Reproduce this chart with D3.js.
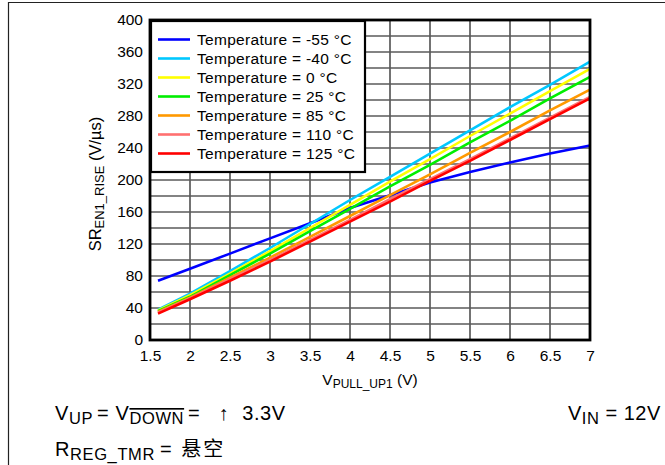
<!DOCTYPE html>
<html>
<head>
<meta charset="utf-8">
<script src="https://cdn.jsdelivr.net/npm/d3@7"></script>
<style>
  html, body { margin: 0; padding: 0; background: #fff; }
  svg { display: block; font-family: "Liberation Sans", Arial, sans-serif; }
</style>
</head>
<body>
<svg id="chart" width="665" height="465"></svg>
<script>
// Pull-up voltage (V)
const vPullUp = [1.6, 2, 2.5, 3, 3.5, 4, 4.5, 5, 5.5, 6, 6.5, 7];

// Slew rate SR_EN1_RISE (V/µs) per temperature
const srM55  = [74, 89, 108, 127, 146, 165, 181, 197, 210, 222, 233, 243];
const srM40  = [38, 58, 86, 115, 145, 175, 204, 233, 262, 291, 319, 348];
const sr0    = [37, 56, 83, 111, 140, 169, 198, 226, 255, 283, 311, 339];
const sr25   = [36, 54, 81, 108, 136, 164, 192, 219, 247, 274, 302, 329];
const sr85   = [35, 53, 78, 103, 129, 155, 181, 207, 234, 260, 287, 313];
const sr110  = [34, 52, 76, 100, 125, 150, 176, 201, 226, 252, 278, 304];
const sr125  = [33, 51, 74, 98, 123, 148, 173, 199, 224, 250, 276, 302];

const seriesNames = ["Temperature = -55 °C", "Temperature = -40 °C", "Temperature = 0 °C",
  "Temperature = 25 °C", "Temperature = 85 °C", "Temperature = 110 °C", "Temperature = 125 °C"];
const seriesColors = ["#0000ff", "#00c8ff", "#ffff00", "#00ee00", "#ff9900", "#ff7070", "#ff0000"];
const seriesValues = [srM55, srM40, sr0, sr25, sr85, sr110, sr125];

const xTicks = [1.5, 2, 2.5, 3, 3.5, 4, 4.5, 5, 5.5, 6, 6.5, 7];
const yTicks = [0, 40, 80, 120, 160, 200, 240, 280, 320, 360, 400];
const yGrid = d3.range(0, 401, 20);

const svg = d3.select("#chart");
const plot = { left: 150, right: 590, top: 20, bottom: 340 };

const x = d3.scaleLinear().domain([1.5, 7]).range([plot.left, plot.right]);
const y = d3.scaleLinear().domain([0, 400]).range([plot.bottom, plot.top]);

// outer frame (top and left edges)
svg.append("path")
  .attr("d", `M8.5,465 L8.5,2.5 L665,2.5`)
  .attr("fill", "none").attr("stroke", "#222").attr("stroke-width", 1.2);

// grid
const grid = svg.append("g");
grid.selectAll("line.v").data(xTicks).join("line")
  .attr("x1", d => x(d)).attr("x2", d => x(d))
  .attr("y1", plot.top).attr("y2", plot.bottom)
  .attr("stroke", "#5a5a5a").attr("stroke-width", 1.7);
grid.selectAll("line.h").data(yGrid).join("line")
  .attr("x1", plot.left).attr("x2", plot.right)
  .attr("y1", d => y(d)).attr("y2", d => y(d))
  .attr("stroke", "#5a5a5a").attr("stroke-width", 1.7);

// curves
const line = d3.line().x((d, i) => x(vPullUp[i])).y(d => y(d));
svg.append("g").selectAll("path").data(seriesValues).join("path")
  .attr("d", d => line(d))
  .attr("fill", "none")
  .attr("stroke", (d, i) => seriesColors[i])
  .attr("stroke-width", 2.6)
  .attr("stroke-linejoin", "round");

// plot border
svg.append("rect")
  .attr("x", plot.left).attr("y", plot.top)
  .attr("width", plot.right - plot.left).attr("height", plot.bottom - plot.top)
  .attr("fill", "none").attr("stroke", "#000").attr("stroke-width", 2.8);

// axes labels
const xAxis = d3.axisBottom(x).tickValues(xTicks).tickSize(0).tickPadding(10)
  .tickFormat(d3.format("~g"));
const gx = svg.append("g").attr("transform", `translate(0,${plot.bottom})`).call(xAxis);
gx.select(".domain").remove();
gx.selectAll("text").attr("font-size", 15.5).attr("fill", "#000")
  .attr("font-family", "Liberation Sans, Arial, sans-serif");

const yAxis = d3.axisLeft(y).tickValues(yTicks).tickSize(0).tickPadding(7);
const gy = svg.append("g").attr("transform", `translate(${plot.left},0)`).call(yAxis);
gy.select(".domain").remove();
gy.selectAll("text").attr("font-size", 15.5).attr("fill", "#000")
  .attr("font-family", "Liberation Sans, Arial, sans-serif");

// axis titles
const xt = svg.append("text").attr("x", 370).attr("y", 385)
  .attr("text-anchor", "middle").attr("font-size", 15.5);
xt.append("tspan").text("V");
xt.append("tspan").attr("font-size", 12).attr("dy", 3).text("PULL_UP1");
xt.append("tspan").attr("dy", -3).text(" (V)");

const yt = svg.append("text")
  .attr("transform", `translate(101,184) rotate(-90)`)
  .attr("text-anchor", "middle").attr("font-size", 16.5);
yt.append("tspan").text("SR");
yt.append("tspan").attr("font-size", 13).attr("dy", 3).text("EN1_RISE");
yt.append("tspan").attr("dy", -3).text(" (V/\u00b5s)");

// legend
const lg = svg.append("g");
lg.append("rect").attr("x", 151).attr("y", 21).attr("width", 214).attr("height", 151)
  .attr("fill", "#fff").attr("stroke", "#000").attr("stroke-width", 2.2);
const rows = lg.selectAll("g.row").data(seriesNames).join("g")
  .attr("transform", (d, i) => `translate(0,${39.5 + i * 19})`);
rows.append("line").attr("x1", 158).attr("x2", 190).attr("y1", 0).attr("y2", 0)
  .attr("stroke", (d, i) => seriesColors[i]).attr("stroke-width", 2.6);
rows.append("text").attr("x", 197).attr("y", 5.5).attr("font-size", 15.5)
  .attr("letter-spacing", 0.3).text(d => d);

// operating conditions
const c1 = svg.append("text").attr("x", 55).attr("y", 420).attr("font-size", 20)
  .attr("letter-spacing", 0.6);
c1.append("tspan").text("V");
c1.append("tspan").attr("font-size", 16.5).attr("dy", 4).text("UP");
c1.append("tspan").attr("dy", -4).attr("dx", 4).text("= V");
c1.append("tspan").attr("font-size", 16.5).attr("dy", 4)
  .attr("text-decoration", "overline").text("DOWN");
c1.append("tspan").attr("dy", -4).attr("dx", 4).text("= ");
c1.append("tspan").attr("dx", 12).text("\u2191");
c1.append("tspan").attr("dx", 13).text("3.3V");

const c2 = svg.append("text").attr("x", 568).attr("y", 420).attr("font-size", 20)
  .attr("letter-spacing", 0.5);
c2.append("tspan").text("V");
c2.append("tspan").attr("font-size", 16.5).attr("dy", 4).text("IN");
c2.append("tspan").attr("dy", -4).text(" = 12V");

const c3 = svg.append("text").attr("x", 55).attr("y", 456).attr("font-size", 20)
  .attr("letter-spacing", 0.6);
c3.append("tspan").text("R");
c3.append("tspan").attr("font-size", 16.5).attr("dy", 4).text("REG_TMR");
c3.append("tspan").attr("dy", -4).attr("dx", 5).text("= ");
c3.append("tspan").attr("dx", 3).attr("font-family", "Noto Sans CJK SC").attr("font-size", 20)
  .attr("letter-spacing", 2).text("悬空");
</script>
</body>
</html>
